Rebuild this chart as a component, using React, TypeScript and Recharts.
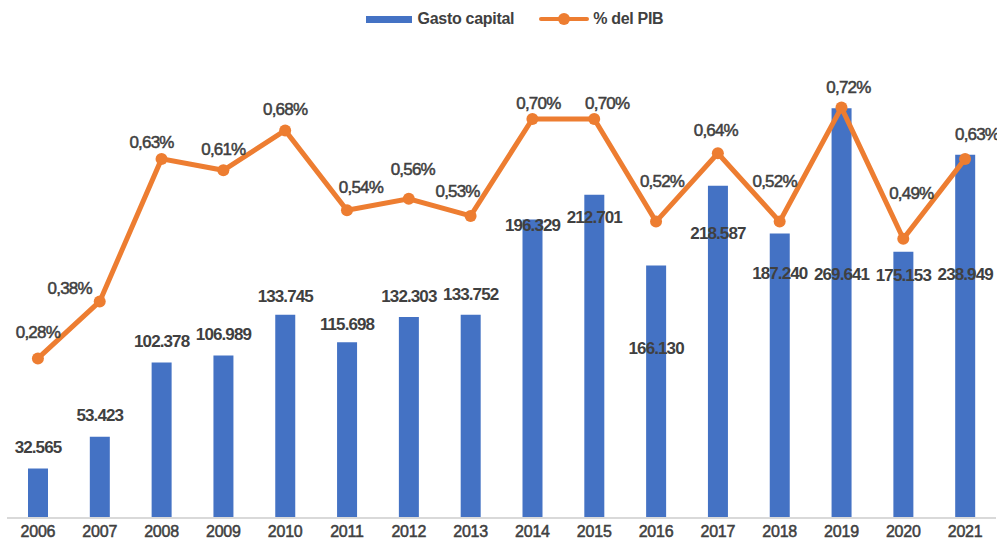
import { ComposedChart, Bar, Line, XAxis, YAxis, LabelList } from "recharts"

const years = ["2006", "2007", "2008", "2009", "2010", "2011", "2012", "2013", "2014", "2015", "2016", "2017", "2018", "2019", "2020", "2021"]
const gastoCapital = [32565, 53423, 102378, 106989, 133745, 115698, 132303, 133752, 196329, 212701, 166130, 218587, 187240, 269641, 175153, 238949]
const pctPib = [0.28, 0.38, 0.63, 0.61, 0.68, 0.54, 0.56, 0.53, 0.7, 0.7, 0.52, 0.64, 0.52, 0.72, 0.49, 0.63]

// manual label placement (as in the original chart)
const barLabelDy = [-21, -21, -21, -21, -18, -18, -20, -20, 6, 23, 83, 48, 40, 166, 24, 120]
const lineLabelDx = [0, -30, -10, 0, 0, 14, 4, -13, 6, 13, 6, -2, -5, 7, 8, 12]
const lineLabelDy = [-26, -13, -16, -21, -21, -23, -29, -24, -16, -16, -40, -23, -40, -20, -45, -24]

const data = years.map((year, i) => ({
  year,
  gasto: gastoCapital[i],
  pib: pctPib[i],
}))

const BLUE = "#4472C4"
const ORANGE = "#ED7D31"
const TEXT = "#404040"
const FONT = "'Liberation Sans', Arial, sans-serif"

const fmtMiles = (v: number) => String(v).replace(/\B(?=(\d{3})+(?!\d))/g, ".")
const fmtPct = (v: number) => v.toFixed(2).replace(".", ",") + "%"

const BarLabel = (props: any) => {
  const { x, y, width, value, index } = props
  return (
    <text
      x={x + width / 2}
      y={y + barLabelDy[index]}
      textAnchor="middle"
      dominantBaseline="central"
      fontFamily={FONT}
      fontWeight="bold"
      fontSize={17}
      letterSpacing={-0.9}
      fill={TEXT}
    >
      {fmtMiles(value)}
    </text>
  )
}

const LineLabel = (props: any) => {
  const { x, y, value, index } = props
  return (
    <text
      x={x + lineLabelDx[index]}
      y={y + lineLabelDy[index]}
      textAnchor="middle"
      dominantBaseline="central"
      fontFamily={FONT}
      fontSize={17}
      letterSpacing={-0.8}
      fill={TEXT}
      stroke={TEXT}
      strokeWidth={0.5}
    >
      {fmtPct(value)}
    </text>
  )
}

export default function App() {
  return (
    <div style={{ position: "absolute", left: 0, top: 0, width: 997, height: 541, background: "#fff" }}>
      <div
        style={{
          position: "absolute",
          top: 10,
          left: 0,
          width: 997,
          display: "flex",
          justifyContent: "center",
          alignItems: "center",
          fontFamily: FONT,
          fontWeight: "bold",
          fontSize: 16,
          letterSpacing: -0.3,
          color: TEXT,
          paddingLeft: 32,
          boxSizing: "border-box",
        }}
      >
        <span style={{ display: "inline-block", width: 46, height: 7, background: BLUE, marginRight: 6 }} />
        <span>Gasto capital</span>
        <span style={{ position: "relative", display: "inline-block", width: 50, height: 12, marginLeft: 25, marginRight: 4 }}>
          <span style={{ position: "absolute", left: 0, top: 4, width: 50, height: 4, background: ORANGE, borderRadius: 2 }} />
          <span style={{ position: "absolute", left: 19, top: 0, width: 12, height: 12, background: ORANGE, borderRadius: 6 }} />
        </span>
        <span>% del PIB</span>
      </div>
      <ComposedChart
        width={997}
        height={541}
        data={data}
        margin={{ top: 62, right: 1, bottom: 0, left: 7 }}
      >
        <XAxis
          dataKey="year"
          height={23}
          tickLine={false}
          axisLine={{ stroke: "#D9D9D9", strokeWidth: 2 }}
          tick={{ fill: TEXT, stroke: TEXT, strokeWidth: 0.5, fontFamily: FONT, fontSize: 16, letterSpacing: -0.2 }}
          tickMargin={2}
          interval={0}
        />
        <YAxis yAxisId="left" hide domain={[0, 300000]} />
        <YAxis yAxisId="right" orientation="right" hide domain={[0, 0.8]} />
        <Bar yAxisId="left" dataKey="gasto" fill={BLUE} barSize={20} isAnimationActive={false}>
          <LabelList dataKey="gasto" content={BarLabel} />
        </Bar>
        <Line
          yAxisId="right"
          dataKey="pib"
          type="linear"
          stroke={ORANGE}
          strokeWidth={5}
          dot={{ r: 6, fill: ORANGE, stroke: ORANGE, strokeWidth: 0 }}
          isAnimationActive={false}
        >
          <LabelList dataKey="pib" content={LineLabel} />
        </Line>
      </ComposedChart>
    </div>
  )
}
